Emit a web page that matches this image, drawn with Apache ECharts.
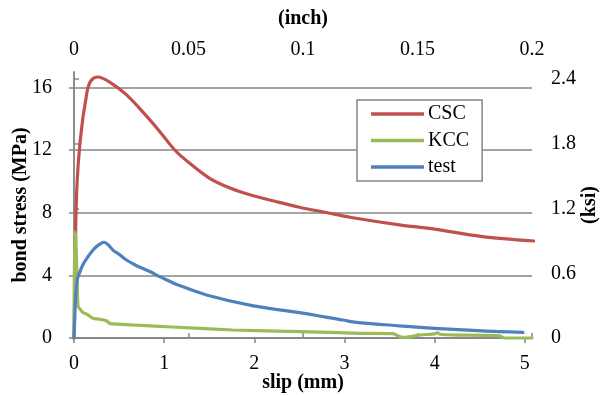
<!DOCTYPE html>
<html>
<head>
<meta charset="utf-8">
<script src="https://cdn.jsdelivr.net/npm/echarts@6/dist/echarts.min.js"></script>
<style>
  html, body { margin: 0; padding: 0; background: #fff; }
  #chart { width: 600px; height: 396px; }
</style>
</head>
<body>
<div id="chart"></div>
<script>
// Bond stress vs. slip curves
const slipCSC   = [0, 0.01, 0.02, 0.035, 0.059, 0.096, 0.13, 0.155, 0.196, 0.265, 0.4, 0.58, 0.77, 0.95, 1.12, 1.28, 1.5, 1.73, 1.95, 2.24, 2.5, 2.8, 3.06, 3.61, 4.0, 4.53, 5.1];
const stressCSC = [0, 3.5, 7.5, 10.0, 12.0, 13.95, 15.2, 16.0, 16.5, 16.68, 16.34, 15.55, 14.4, 13.2, 12.0, 11.18, 10.22, 9.58, 9.15, 8.72, 8.36, 8.02, 7.72, 7.23, 6.96, 6.48, 6.2];

const slipKCC   = [0, 0.005, 0.02, 0.04, 0.048, 0.1, 0.15, 0.21, 0.3, 0.36, 0.4, 0.66, 1.03, 1.76, 2.5, 3.17, 3.54, 3.61, 3.68, 3.83, 4.0, 4.03, 4.06, 4.27, 4.72, 4.77, 5.08];
const stressKCC = [0, 6.8, 6.5, 2.5, 2.0, 1.62, 1.5, 1.26, 1.18, 1.1, 0.92, 0.83, 0.72, 0.51, 0.41, 0.3, 0.28, 0.1, 0.04, 0.19, 0.26, 0.34, 0.24, 0.19, 0.14, 0.0, 0.0];

const slipTest   = [0, 0.01, 0.02, 0.035, 0.05, 0.1, 0.15, 0.2, 0.25, 0.3, 0.335, 0.38, 0.435, 0.5, 0.565, 0.7, 0.84, 0.95, 1.03, 1.155, 1.47, 1.99, 2.5, 2.98, 3.16, 3.61, 4.0, 4.53, 4.98];
const stressTest = [0, 1.5, 2.8, 3.7, 4.0, 4.7, 5.15, 5.55, 5.85, 6.05, 6.12, 5.95, 5.6, 5.35, 5.05, 4.6, 4.25, 3.92, 3.71, 3.39, 2.75, 2.05, 1.62, 1.15, 0.98, 0.78, 0.62, 0.45, 0.36];

const mmTicks   = [0, 1, 2, 3, 4, 5];
const inchTicks = [0, 0.05, 0.1, 0.15, 0.2];
const mpaTicks  = [0, 4, 8, 12, 16];
const ksiTicks  = [0, 0.6, 1.2, 1.8, 2.4];

const MM_PER_INCH = 25.4;
const MPA_PER_KSI = 6.894757;
const SLIP_MAX_MM = 0.2 * MM_PER_INCH;
const STRESS_MAX_MPA = 17;

const zip = (xs, ys) => xs.map((x, i) => [x, ys[i]]);

const FONT = "'Liberation Serif', 'Times New Roman', serif";
const GRAY = '#868686';

const tickLabel = { fontFamily: FONT, fontSize: 20, color: '#000' };
const titleStyle = { fontFamily: FONT, fontSize: 20, fontWeight: 'bold', color: '#000' };
const axisLine = { show: true, lineStyle: { color: GRAY, width: 1.5 } };
const axisTick = (vals) => ({ show: true, length: 5, customValues: vals, lineStyle: { color: GRAY, width: 1.5 } });

const chart = echarts.init(document.getElementById('chart'), null, { renderer: 'canvas' });

chart.setOption({
  animation: false,
  backgroundColor: '#fff',
  grid: { left: 74, right: 68, top: 72, bottom: 58, containLabel: false, outerBoundsMode: 'none' },
  legend: {
    orient: 'vertical',
    left: 357,
    top: 100,
    padding: [4, 13, 4, 14],
    itemGap: 6.5,
    itemWidth: 53,
    itemHeight: 3.5,
    icon: 'rect',
    backgroundColor: '#fff',
    borderColor: GRAY,
    borderWidth: 1.5,
    textStyle: { fontFamily: FONT, fontSize: 20, color: '#000', padding: [0, 0, 0, -1] },
    data: ['CSC', 'KCC', 'test']
  },
  xAxis: [
    {
      type: 'value', position: 'bottom', min: 0, max: SLIP_MAX_MM,
      name: 'slip (mm)', nameLocation: 'middle', nameGap: 35, nameMoveOverlap: false, nameTextStyle: titleStyle,
      axisLine, axisTick: axisTick(mmTicks),
      axisLabel: Object.assign({ customValues: mmTicks, margin: 16 }, tickLabel),
      splitLine: { show: false }
    },
    {
      type: 'value', position: 'top', min: 0, max: 0.2,
      name: '(inch)', nameLocation: 'middle', nameGap: 43, nameMoveOverlap: false, nameTextStyle: titleStyle,
      axisLine, axisTick: axisTick(inchTicks),
      axisLabel: Object.assign({ customValues: inchTicks, margin: 12 }, tickLabel),
      splitLine: { show: false }
    }
  ],
  yAxis: [
    {
      type: 'value', position: 'left', min: 0, max: STRESS_MAX_MPA, interval: 4,
      name: 'bond stress (MPa)', nameLocation: 'middle', nameGap: 43.5, nameMoveOverlap: false, nameTextStyle: titleStyle,
      axisLine, axisTick: axisTick(mpaTicks),
      axisLabel: Object.assign({ customValues: mpaTicks, margin: 22 }, tickLabel),
      splitLine: { show: true, lineStyle: { color: GRAY, width: 1.5 } }
    },
    {
      type: 'value', position: 'right', min: 0, max: STRESS_MAX_MPA / MPA_PER_KSI,
      name: '(ksi)', nameLocation: 'middle', nameGap: 47.5, nameMoveOverlap: false, nameTextStyle: titleStyle,
      axisLine, axisTick: axisTick(ksiTicks),
      axisLabel: Object.assign({ customValues: ksiTicks, margin: 19 }, tickLabel),
      splitLine: { show: false }
    }
  ],
  series: [
    {
      name: 'CSC', type: 'line', xAxisIndex: 0, yAxisIndex: 0,
      data: zip(slipCSC, stressCSC), symbol: 'none', smooth: 0.3, clip: false,
      color: '#C0504D', lineStyle: { width: 3.2, color: '#C0504D', cap: 'round', join: 'round' }
    },
    {
      name: 'KCC', type: 'line', xAxisIndex: 0, yAxisIndex: 0,
      data: zip(slipKCC, stressKCC), symbol: 'none', smooth: 0.15, clip: false,
      color: '#9BBB59', lineStyle: { width: 3.2, color: '#9BBB59', cap: 'round', join: 'round' }
    },
    {
      name: 'test', type: 'line', xAxisIndex: 0, yAxisIndex: 0,
      data: zip(slipTest, stressTest), symbol: 'none', smooth: 0.3, clip: false,
      color: '#4F81BD', lineStyle: { width: 3.2, color: '#4F81BD', cap: 'round', join: 'round' }
    }
  ]
});
</script>
</body>
</html>
